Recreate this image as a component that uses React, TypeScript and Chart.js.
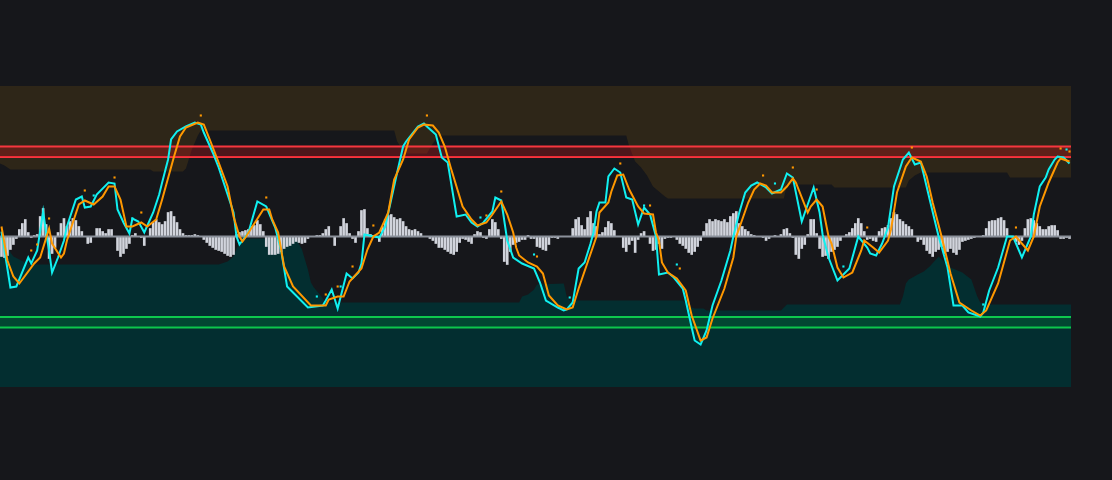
import React, { useEffect, useRef } from "react";
import { Chart, registerables } from "chart.js";

Chart.register(...registerables);

// Index range of the series (one histogram bar per index)
const X_MIN = -0.5;
const X_MAX = 359.5;

// Oscillator histogram, one value per bar
const histogram: number[] = [
  -20, -21, -19, -13, -8, -2, 7, 13, 17, 4,
  -1, 1, 2, 20, 28, 12, -22, -17, -11, 4,
  13, 18, 10, 15, 18, 16, 10, 5, 0, -7,
  -6, 0, 8, 8, 5, 3, 7, 7, 0, -14,
  -20, -17, -12, -7, 1, 3, 0, -1, -9, 0,
  8, 14, 17, 14, 12, 15, 24, 25, 20, 14,
  7, 3, 1, 1, 1, 2, 1, 0, -3, -6,
  -9, -11, -13, -14, -15, -17, -19, -20, -18, 2,
  4, 5, 6, 7, 10, 11, 16, 12, 5, -10,
  -18, -18, -18, -17, -15, -12, -10, -9, -7, -5,
  -6, -7, -6, -2, 0, 0, 1, 1, 3, 7,
  10, 0, -9, 0, 10, 18, 13, 3, -2, -6,
  5, 26, 27, 8, 2, 1, 0, -5, 10, 17,
  21, 22, 19, 17, 18, 15, 10, 7, 6, 7,
  5, 3, 0, 0, -2, -4, -7, -11, -11, -13,
  -15, -17, -18, -15, -6, -2, -3, -5, -7, 2,
  5, 4, -1, -2, 7, 17, 14, 7, -2, -25,
  -28, -15, -8, -6, -5, -3, -3, 1, -2, -2,
  -10, -11, -13, -14, -8, -1, -1, -2, 0, 0,
  0, 0, 8, 17, 19, 11, 7, 19, 25, 13,
  10, 2, 4, 9, 15, 13, 6, 0, 0, -11,
  -15, -8, -4, -16, -3, 3, 5, 0, -7, -14,
  -13, -7, -12, -2, -1, -1, 0, -3, -7, -9,
  -12, -16, -18, -15, -10, -4, 5, 13, 17, 15,
  17, 16, 15, 17, 14, 20, 23, 25, 13, 10,
  7, 5, 2, 1, 0, 0, -1, -4, -2, 0,
  1, 0, 2, 7, 8, 3, -1, -18, -22, -12,
  -8, 2, 17, 17, 3, -12, -20, -19, -22, -15,
  -13, -10, -4, 0, 2, 4, 8, 13, 18, 13,
  5, -3, -2, -4, -5, 5, 8, 9, 11, 18,
  24, 22, 17, 15, 12, 10, 7, 0, -5, -3,
  -8, -14, -17, -20, -15, -13, -10, -17, -15, -12,
  -16, -18, -13, -5, -4, -3, -2, -1, 0, 0,
  1, 8, 15, 16, 16, 18, 19, 16, 8, 0,
  -1, -5, -8, -4, 8, 17, 18, 16, 13, 10,
  7, 7, 10, 11, 11, 6, -2, -2, -1, -2,
];

// Fast line (cyan): [index, value]
const fastLine: number[][] = [
  [0, 5], [3, -51], [5, -50], [9, -21], [10, -27], [12, -14], [14, 25], [15, 4], [16, -14], [17, -36],
  [19, -21], [21, -4], [22, 10], [25, 37], [27, 40], [28, 29], [30, 30], [32, 42], [36, 54], [38, 53],
  [39, 27], [41, 14], [43, 3], [44, 18], [46, 15], [48, 4], [51, 24], [53, 42], [54, 54], [56, 77],
  [57, 97], [59, 105], [62, 110], [65, 114], [67, 112], [68, 104], [71, 84], [73, 69], [78, 24], [79, 0],
  [80, -8], [82, 0], [83, 4], [86, 35], [89, 30], [92, 9], [94, -14], [96, -50], [98, -56], [103, -71],
  [108, -69], [109, -64], [111, -53], [113, -72], [116, -37], [118, -42], [120, -36], [121, -27], [122, 2], [127, -1],
  [129, 10], [131, 37], [133, 64], [135, 90], [136, 95], [140, 110], [142, 113], [143, 110], [146, 102], [148, 79],
  [150, 74], [153, 20], [156, 22], [158, 14], [160, 10], [162, 14], [165, 25], [166, 39], [168, 36], [170, -4],
  [172, -21], [175, -27], [179, -32], [181, -46], [183, -64], [187, -71], [189, -74], [190, -73], [192, -66], [194, -32],
  [196, -26], [198, -7], [199, 4], [200, 25], [201, 34], [203, 34], [204, 60], [206, 68], [208, 64], [210, 39],
  [212, 37], [214, 12], [216, 29], [218, 22], [220, 0], [221, -38], [224, -36], [226, -41], [229, -52], [230, -64],
  [232, -91], [233, -104], [235, -108], [237, -94], [239, -69], [242, -44], [245, -14], [246, 0], [248, 24], [250, 44],
  [252, 51], [254, 54], [257, 49], [259, 43], [262, 47], [264, 63], [266, 59], [269, 15], [271, 32], [273, 49],
  [275, 24], [276, 2], [278, -21], [281, -44], [285, -32], [288, 0], [291, -11], [292, -17], [294, -19], [296, -7],
  [298, 9], [300, 50], [303, 77], [305, 84], [307, 72], [309, 74], [310, 62], [312, 37], [315, 0], [318, -31],
  [320, -69], [323, -69], [325, -76], [329, -80], [330, -76], [332, -54], [335, -31], [338, 0], [340, 0], [343, -21],
  [346, 0], [347, 22], [349, 50], [351, 59], [352, 67], [354, 77], [355, 80], [357, 79], [359, 73],
];

// Slow line (orange): [index, value]
const slowLine: number[][] = [
  [0, 10], [2, -24], [4, -40], [6, -47], [11, -27], [13, -21], [16, 8], [17, -7], [20, -21], [21, -17],
  [22, -4], [24, 14], [26, 32], [28, 36], [31, 32], [34, 40], [36, 50], [38, 50], [40, 37], [42, 10],
  [44, 10], [47, 14], [49, 10], [52, 17], [54, 37], [58, 80], [60, 100], [62, 109], [66, 114], [68, 112],
  [70, 97], [73, 74], [76, 50], [78, 20], [80, 0], [81, -5], [82, -1], [88, 27], [90, 27], [91, 17],
  [93, 4], [95, -30], [98, -50], [104, -69], [109, -69], [110, -63], [113, -60], [115, -60], [117, -45], [121, -32],
  [123, -13], [125, 0], [127, 4], [130, 24], [132, 57], [135, 77], [137, 97], [140, 109], [142, 112], [145, 111],
  [147, 104], [149, 90], [151, 69], [155, 30], [158, 17], [160, 11], [163, 14], [165, 22], [168, 35], [170, 22],
  [172, 4], [173, -11], [174, -19], [177, -26], [180, -30], [182, -37], [184, -59], [187, -69], [190, -73], [192, -71],
  [194, -52], [197, -26], [200, 0], [201, 24], [204, 34], [205, 45], [207, 61], [209, 62], [211, 47], [214, 30],
  [216, 23], [219, 22], [220, 4], [221, -4], [222, -26], [224, -36], [227, -42], [230, -54], [232, -79], [235, -104],
  [237, -101], [239, -82], [243, -52], [246, -21], [247, 0], [251, 34], [253, 47], [255, 53], [257, 51], [259, 44],
  [262, 44], [264, 50], [266, 58], [267, 54], [271, 24], [272, 30], [274, 37], [276, 30], [278, 0], [279, -7],
  [281, -31], [283, -41], [286, -36], [289, -14], [290, -4], [293, -11], [295, -16], [298, -4], [299, 7], [301, 44],
  [304, 70], [306, 79], [309, 75], [311, 60], [313, 34], [316, 0], [319, -37], [322, -66], [326, -74], [329, -79],
  [331, -74], [335, -47], [339, -4], [341, 0], [345, -14], [347, 0], [349, 30], [352, 54], [355, 74], [356, 78],
  [359, 75],
];

// Upper (bearish) zone edge, filled up to the top
const upperZone: number[][] = [
  [X_MIN, 73], [1, 71], [3, 67], [50, 67], [51, 65], [61, 65], [62, 68], [64, 87], [66, 101], [67, 106],
  [132, 106], [133, 95], [135, 86], [136, 83], [143, 83], [145, 93], [147, 101], [210, 101], [211, 90], [213, 75],
  [215, 69], [217, 61], [219, 50], [223, 40], [224, 38], [263, 38], [264, 52], [279, 52], [280, 49], [304, 49],
  [305, 56], [307, 61], [309, 64], [338, 64], [339, 59], [X_MAX, 59],
];

// Lower (bullish) zone edge, filled down to the bottom
const lowerZone: number[][] = [
  [X_MIN, -1], [2, -2], [3, -16], [4, -20], [8, -26], [11, -28], [73, -28], [76, -25], [78, -20], [79, -12],
  [81, -2], [99, -2], [101, -13], [103, -33], [104, -46], [105, -51], [107, -58], [109, -66], [174, -66], [175, -60],
  [177, -58], [179, -53], [180, -48], [189, -47], [190, -60], [191, -64], [229, -64], [231, -70], [233, -72], [236, -72],
  [237, -74], [262, -74], [263, -71], [264, -68], [302, -68], [303, -60], [304, -47], [305, -43], [308, -38], [310, -35],
  [312, -30], [315, -20], [319, -31], [323, -36], [326, -43], [328, -60], [329, -66], [332, -68], [X_MAX, -68],
];

// Signal dots
const slowDots: number[][] = [
  [67, 121], [143, 121], [38, 59], [28, 46], [16, 18], [10, -14], [12, -8], [47, 24], [89, 39], [125, 11],
  [118, -30], [113, -50], [109, -58], [163, 21], [168, 45], [180, -20], [208, 73], [218, 31], [228, -32], [256, 61],
  [266, 69], [274, 47], [291, 9], [306, 89], [341, 9], [356, 88], [359, 85],
];
const fastDots: number[][] = [
  [44, 18], [31, 41], [106, -60], [114, -50], [161, 19], [179, -18], [191, -61], [216, 31], [227, -28], [260, 53],
  [283, -30], [330, -68], [358, 87],
];

// Levels
const overbought = [90, 79.5];
const oversold = [-80.5, -91];
const Y_MIN = -150.5;
const Y_MAX = 150.5;

const RED = "#f7363f";
const GREEN = "#0ec84e";

export default function App() {
  const ref = useRef<HTMLCanvasElement>(null);

  useEffect(() => {
    const flat = (v: number) => [[X_MIN, v], [X_MAX, v]];
    const levelLine = (v: number, color: string, fill: any, band: string) => ({
      data: flat(v),
      borderColor: color,
      borderWidth: 2,
      pointRadius: 0,
      fill,
      backgroundColor: band,
      order: 5,
    });

    const chart = new Chart(ref.current as HTMLCanvasElement, {
      type: "line",
      data: {
        datasets: [
          {
            data: slowDots,
            showLine: false,
            pointStyle: "rect",
            pointRadius: 1.5,
            pointHoverRadius: 0,
            pointBorderWidth: 0,
            pointBackgroundColor: "#ff9800",
            order: 0,
          } as any,
          {
            data: fastDots,
            showLine: false,
            pointStyle: "rect",
            pointRadius: 1.5,
            pointHoverRadius: 0,
            pointBorderWidth: 0,
            pointBackgroundColor: "#10f0f0",
            order: 0,
          } as any,
          {
            data: slowLine,
            borderColor: "#ff9800",
            borderWidth: 2,
            pointRadius: 0,
            fill: false,
            order: 1,
          },
          {
            data: fastLine,
            borderColor: "#10f0f0",
            borderWidth: 2,
            pointRadius: 0,
            fill: false,
            order: 2,
          },
          {
            data: flat(0),
            borderColor: "#8b919b",
            borderWidth: 2,
            pointRadius: 0,
            fill: false,
            order: 3,
          },
          {
            type: "bar",
            data: histogram.map((v, i) => ({ x: i, y: v })),
            backgroundColor: "#d1d4dc",
            borderWidth: 0,
            barThickness: 2,
            order: 4,
          } as any,
          levelLine(overbought[0], RED, { value: overbought[1] }, "rgba(210,20,30,0.3)"),
          levelLine(overbought[1], RED, false, "rgba(0,0,0,0)"),
          levelLine(oversold[0], GREEN, { value: oversold[1] }, "rgba(0,190,60,0.18)"),
          levelLine(oversold[1], GREEN, false, "rgba(0,0,0,0)"),
          {
            data: upperZone,
            borderColor: "rgba(0,0,0,0)",
            borderWidth: 0,
            pointRadius: 0,
            backgroundColor: "#2e2618",
            fill: "end",
            order: 8,
          },
          {
            data: lowerZone,
            borderColor: "rgba(0,0,0,0)",
            borderWidth: 0,
            pointRadius: 0,
            backgroundColor: "#032e30",
            fill: "start",
            order: 8,
          },
        ] as any,
      },
      options: {
        animation: false,
        responsive: false,
        maintainAspectRatio: false,
        events: [],
        layout: { autoPadding: false, padding: { left: 0, right: 41, top: 86, bottom: 93 } },
        elements: { line: { tension: 0 }, point: { radius: 0 } },
        plugins: {
          legend: { display: false },
          tooltip: { enabled: false },
        },
        scales: {
          x: {
            type: "linear",
            min: X_MIN,
            max: X_MAX,
            offset: false,
            grid: { offset: false },
            display: false,
          },
          y: { type: "linear", min: Y_MIN, max: Y_MAX, display: false },
        },
      },
    });
    return () => chart.destroy();
  }, []);

  return (
    <div
      style={{
        position: "absolute",
        left: 0,
        top: 0,
        width: 1112,
        height: 480,
        background: "#16171b",
      }}
    >
      <canvas ref={ref} width={1112} height={480} style={{ display: "block" }} />
    </div>
  );
}
